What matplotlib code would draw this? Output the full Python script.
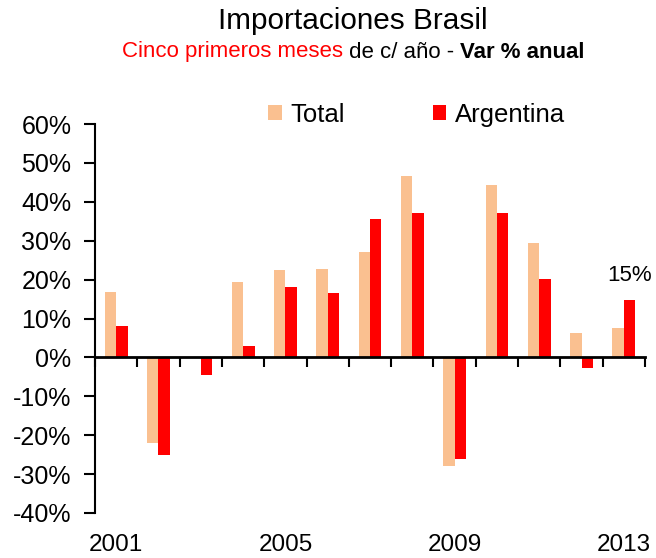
import matplotlib
matplotlib.use("Agg")
import matplotlib.pyplot as plt
import numpy as np

plt.rcParams['font.family'] = ['Liberation Sans', 'DejaVu Sans']

years = ['2001', '2002', '2003', '2004', '2005', '2006', '2007',
         '2008', '2009', '2010', '2011', '2012', '2013']
total = [16.9, -21.9, 0.0, 19.4, 22.4, 22.7, 27.0, 46.7, -27.8, 44.2, 29.5, 6.3, 7.6]
argentina = [8.0, -25.2, -4.5, 3.0, 18.1, 16.5, 35.5, 37.0, -26.0, 37.0, 20.2, -2.8, 14.7]
shown_labels = ['2001', '2005', '2009', '2013']
yticks = [-40, -30, -20, -10, 0, 10, 20, 30, 40, 50, 60]

W, H = 656, 558
fig = plt.figure(figsize=(W / 100, H / 100), dpi=100)
ax = fig.add_axes([95 / W, (H - 513) / H, (645 - 95) / W, (513 - 124) / H])

x = np.arange(len(years))
bw = 0.27
c_total = '#FAC090'
c_arg = '#FF0000'
ax.bar(x - bw / 2, total, bw, color=c_total, label='Total', zorder=2)
ax.bar(x + bw / 2, argentina, bw, color=c_arg, label='Argentina', zorder=2)

ax.set_xlim(-0.5, len(years) - 0.5)
ax.set_ylim(-40, 60)
ax.set_yticks(yticks)
ax.set_yticklabels([f'{v}%' for v in yticks], fontsize=18)
ax.tick_params(axis='y', direction='out', length=8, width=1.5, pad=9)

ax.spines['top'].set_visible(False)
ax.spines['right'].set_visible(False)
ax.spines['left'].set_linewidth(1.5)
ax.spines['bottom'].set_position(('data', 0))
ax.spines['bottom'].set_linewidth(2)
ax.spines['bottom'].set_zorder(3)
ax.set_xticks(np.arange(len(years) + 1) - 0.5)
ax.set_xticklabels([])
ax.tick_params(axis='x', direction='out', length=7, width=1.5)

for i, y in enumerate(years):
    if y in shown_labels:
        ax.text(i, -0.098, y, transform=ax.get_xaxis_transform(),
                ha='center', va='baseline', fontsize=17.5)

# annotation on last Argentina bar
ax.annotate(f'{argentina[-1]:.0f}%', xy=(x[-1] + bw / 2, argentina[-1]),
            xytext=(0, 10), textcoords='offset points',
            ha='center', va='bottom', fontsize=16)

leg = ax.legend(loc='center', bbox_to_anchor=(0.585, 1.023), ncol=2,
                frameon=False, fontsize=18.5, handlelength=0.52, handleheight=0.52,
                handletextpad=0.36, columnspacing=3.4, borderaxespad=0)

# title
fig.text(353 / W, 1 - 21 / H, 'Importaciones Brasil', ha='center', va='center', fontsize=21.4)

# multi-colored subtitle
parts = [('Cinco primeros meses', c_arg, 'normal'),
         (' de c/ año - ', 'black', 'normal'),
         ('Var % anual', 'black', 'bold')]
fig.canvas.draw()
renderer = fig.canvas.get_renderer()
texts = []
ysub = 1 - 52 / H
widths = []
for s, col, wt in parts:
    t = fig.text(0, ysub, s, color=col, fontweight=wt, fontsize=16,
                 ha='left', va='center')
    bb = t.get_window_extent(renderer=renderer)
    texts.append(t)
    widths.append(bb.width / W)
cur = 353 / W - sum(widths) / 2
for t, w in zip(texts, widths):
    t.set_x(cur)
    cur += w

fig.savefig('out.png', dpi=100)
